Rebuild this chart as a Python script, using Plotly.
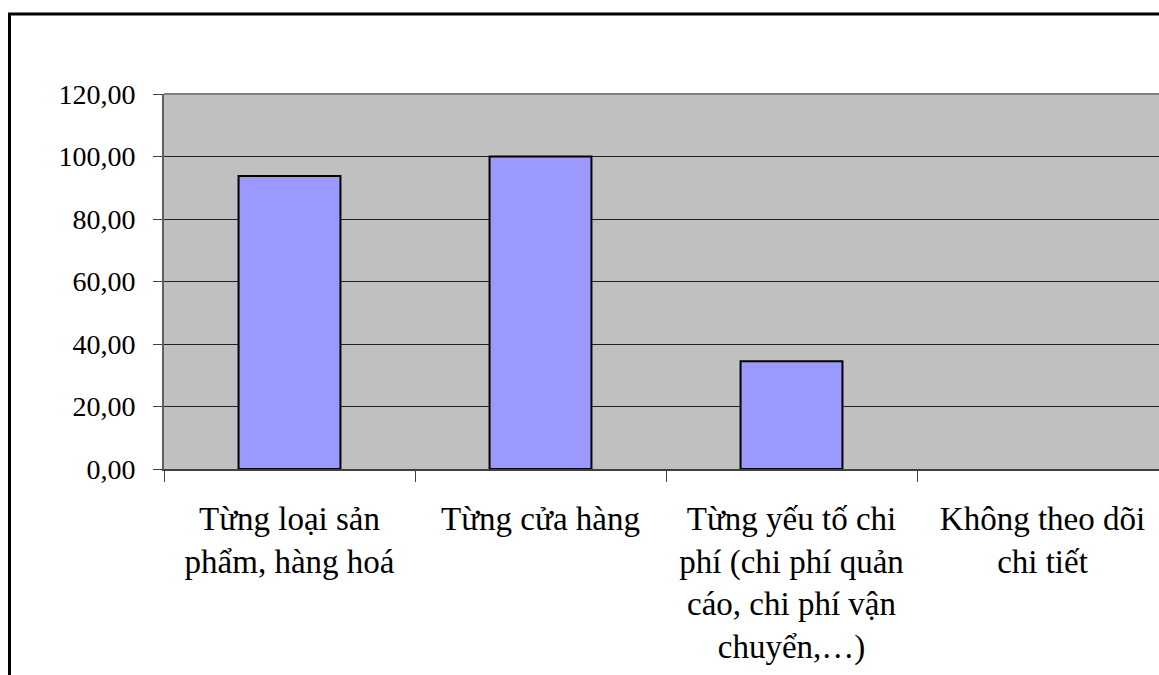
import plotly.graph_objects as go

# Share of responses by cost-tracking level (%)
categories = [
    "Từng loại sản<br>phẩm, hàng hoá",
    "Từng cửa hàng",
    "Từng yếu tố chi<br>phí (chi phí quản<br>cáo, chi phí vận<br>chuyển,…)",
    "Không theo dõi<br>chi tiết",
]
values = [93.75, 100.0, 34.5, 0.0]
y_ticks = [0, 20, 40, 60, 80, 100, 120]
y_tick_labels = ["0,00", "20,00", "40,00", "60,00", "80,00", "100,00", "120,00"]

W, H = 1159, 675
L, R, T, B = 164, 0, 94, 206
plot_w = W - L - R
plot_h = H - T - B

serif = "Liberation Serif, Times New Roman, serif"

# empty bars get no outline so nothing is stroked along the baseline
outline_widths = [2 if v > 0 else 0 for v in values]

fig = go.Figure(
    go.Bar(
        x=categories,
        y=values,
        marker=dict(color="#9999FF", line=dict(color="black", width=outline_widths)),
        width=0.406,
        hoverinfo="skip",
    )
)

# category spacing is ~251 px; the last slot runs past the right edge
cat_px = 251.0
x_hi = -0.5 + plot_w / cat_px

fig.update_layout(
    width=W,
    height=H,
    margin=dict(l=L, r=R, t=T, b=B, pad=0),
    paper_bgcolor="white",
    plot_bgcolor="#C0C0C0",
    showlegend=False,
    font=dict(family=serif, color="black"),
    xaxis=dict(
        type="category",
        range=[-0.5, x_hi],
        tickson="boundaries",
        ticks="outside",
        ticklen=11,
        tickwidth=1,
        tickcolor="#404040",
        showline=True,
        linecolor="#404040",
        linewidth=2,
        showgrid=False,
        tickfont=dict(size=33, family=serif, color="black"),
        tickangle=0,
        ticklabelstandoff=19,
    ),
    yaxis=dict(
        range=[0, 120],
        tickvals=y_ticks,
        ticktext=y_tick_labels,
        ticks="outside",
        ticklen=9,
        tickwidth=1,
        tickcolor="#404040",
        showline=True,
        linecolor="#606060",
        linewidth=2,
        showgrid=True,
        gridcolor="#202020",
        gridwidth=1,
        zeroline=False,
        tickfont=dict(size=28, family=serif, color="black"),
        ticklabelstandoff=12,
    ),
    shapes=[
        # top edge of the plot area
        dict(type="line", xref="paper", yref="paper", x0=0, x1=1.05, y0=1, y1=1,
             line=dict(color="#808080", width=2)),
        # outer chart frame
        dict(type="rect", xref="paper", yref="paper",
             x0=(9.5 - L) / plot_w, x1=1.1,
             y0=-1.0, y1=(H - B - 14) / plot_h,
             line=dict(color="black", width=3), fillcolor="rgba(0,0,0,0)",
             layer="above"),
    ],
)

fig.write_html("out.html")
